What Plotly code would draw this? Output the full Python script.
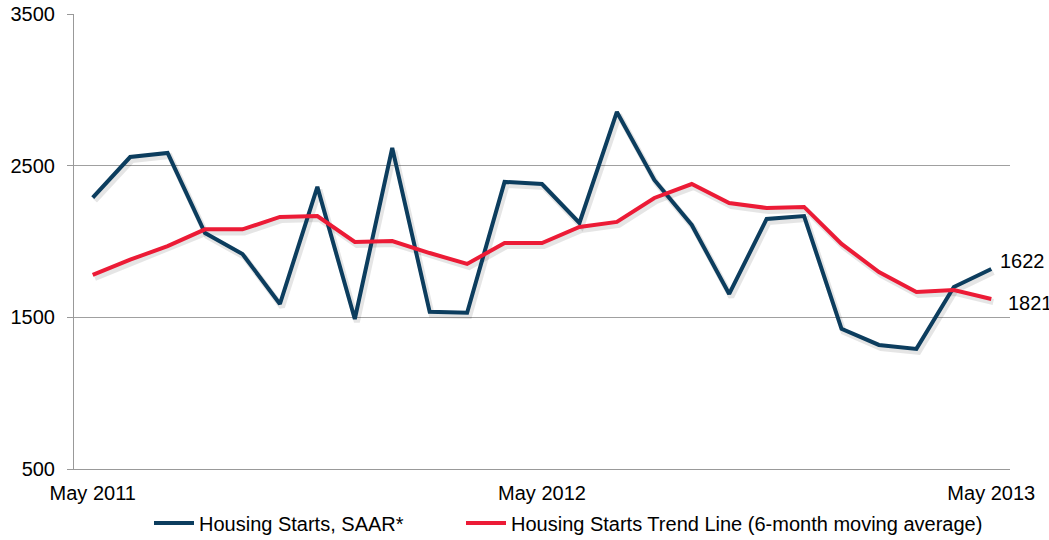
import plotly.graph_objects as go

months = ["May 2011", "Jun 2011", "Jul 2011", "Aug 2011", "Sep 2011", "Oct 2011", "Nov 2011",
          "Dec 2011", "Jan 2012", "Feb 2012", "Mar 2012", "Apr 2012", "May 2012", "Jun 2012",
          "Jul 2012", "Aug 2012", "Sep 2012", "Oct 2012", "Nov 2012", "Dec 2012", "Jan 2013",
          "Feb 2013", "Mar 2013", "Apr 2013", "May 2013"]
starts_saar = [2290, 2557, 2584, 2056, 1918, 1588, 2360, 1489, 2617, 1536, 1530, 2393, 2379,
               2122, 2854, 2406, 2109, 1654, 2149, 2168, 1424, 1318, 1292, 1700, 1819]
trend_6m = [1780, 1880, 1970, 2080, 2080, 2162, 2168, 1997, 2003, 1924, 1852, 1990, 1990,
            2096, 2129, 2287, 2379, 2254, 2221, 2228, 1984, 1799, 1667, 1680, 1621]
x_tick_labels = ["May 2011", "May 2012", "May 2013"]
y_ticks = [500, 1500, 2500, 3500]
end_labels = ["1622", "1821"]

BLUE = "#0c3d5e"
RED = "#ec1b36"
idx = list(range(len(months)))
tick_idx = [months.index(m) for m in x_tick_labels]

fig = go.Figure()
# soft drop shadows (drawn on a slightly shifted copy of the axes)
for vals in (starts_saar, trend_6m):
    fig.add_trace(go.Scatter(x=idx, y=vals, mode="lines", xaxis="x", yaxis="y",
                             line=dict(color="rgba(0,0,0,0.10)", width=6),
                             showlegend=False, hoverinfo="skip"))
fig.add_trace(go.Scatter(x=idx, y=starts_saar, mode="lines", name="Housing Starts, SAAR*",
                         xaxis="x2", yaxis="y2", line=dict(color=BLUE, width=4),
                         legend="legend"))
fig.add_trace(go.Scatter(x=idx, y=trend_6m, mode="lines",
                         name="Housing Starts Trend Line (6-month moving average)",
                         xaxis="x2", yaxis="y2", line=dict(color=RED, width=4),
                         legend="legend2"))

fig.add_annotation(x=idx[-1], y=starts_saar[-1], xref="x2", yref="y2", text=end_labels[0],
                   showarrow=False, xanchor="left", yanchor="middle", xshift=7, yshift=8,
                   font=dict(size=20, color="#000"))
fig.add_annotation(x=idx[-1], y=trend_6m[-1], xref="x2", yref="y2", text=end_labels[1],
                   showarrow=False, xanchor="left", yanchor="middle", xshift=15, yshift=-4,
                   font=dict(size=20, color="#000"))

font = dict(family="Liberation Sans, Arial, sans-serif", size=20, color="#000")
legend_common = dict(orientation="h", xref="container", xanchor="left",
                     yref="container", y=(540 - 523) / 540, yanchor="middle",
                     font=font, bgcolor="rgba(0,0,0,0)", itemwidth=40)
fig.update_layout(
    width=1049, height=540,
    margin=dict(l=74, r=39, t=14, b=71, autoexpand=False),
    paper_bgcolor="white", plot_bgcolor="white",
    font=font,
    xaxis=dict(range=[-0.5 - 0.055, 24.5 - 0.055], visible=False, automargin=False),
    yaxis=dict(range=[500 + 20, 3500 + 20], visible=False, automargin=False),
    xaxis2=dict(range=[-0.5, 24.5], overlaying="x", tickmode="array", tickvals=tick_idx,
                ticktext=x_tick_labels, showgrid=False, zeroline=False, showline=True,
                linecolor="#999", linewidth=1, ticks="outside", ticklen=6,
                tickcolor="rgba(0,0,0,0)", tickfont=font, automargin=False),
    yaxis2=dict(range=[500, 3500], overlaying="y", tickmode="array", tickvals=y_ticks,
                showgrid=True, gridcolor="#a0a0a0", gridwidth=1, zeroline=False,
                showline=True, linecolor="#999", linewidth=1, ticks="outside", ticklen=6,
                tickcolor="#999", ticklabelstandoff=8, tickfont=font, automargin=False),
    legend=dict(x=149 / 1049, **legend_common),
    legend2=dict(x=461 / 1049, **legend_common),
    showlegend=True,
)
fig.write_html("out.html", config={"displayModeBar": False},
               post_script="document.body.style.margin='0';document.body.style.overflow='hidden';")
